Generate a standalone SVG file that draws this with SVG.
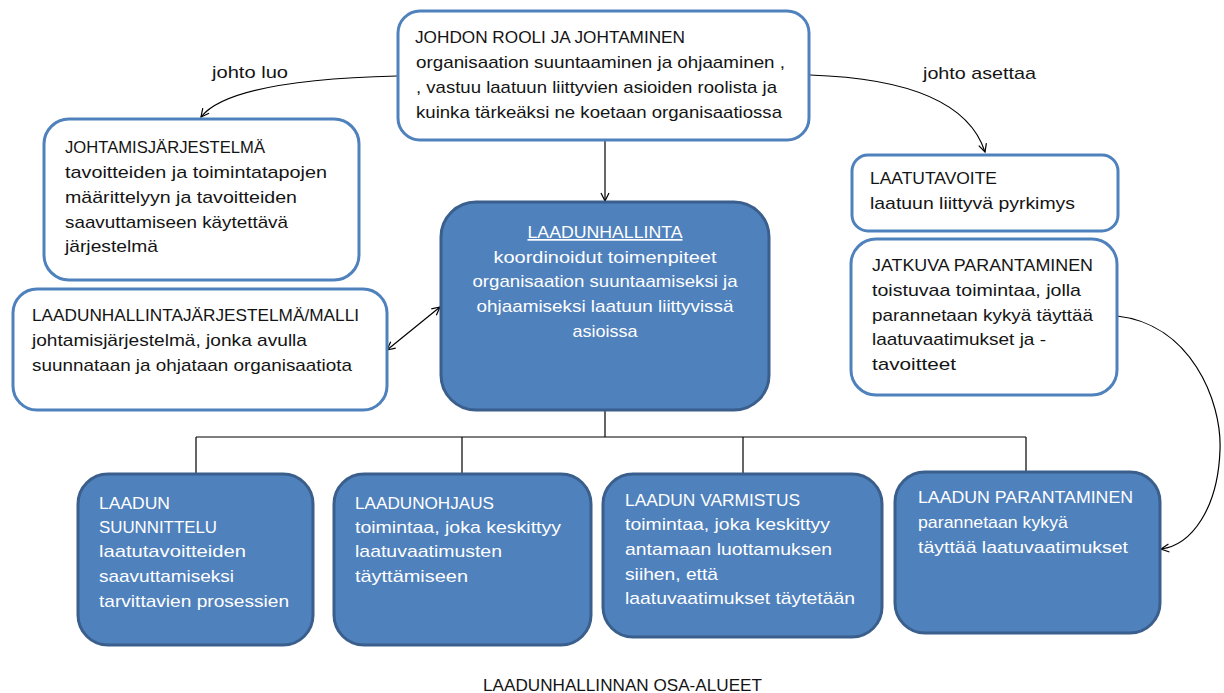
<svg xmlns="http://www.w3.org/2000/svg" width="1224" height="693" viewBox="0 0 1224 693">
  <defs>
    <marker id="open" viewBox="0 0 10 10" refX="9" refY="5" markerWidth="10" markerHeight="10" markerUnits="userSpaceOnUse" orient="auto-start-reverse">
      <path d="M1,1 L9,5 L1,9" fill="none" stroke="#000" stroke-width="1.2"/>
    </marker>
    <style>
      text { font-family: "Liberation Sans", Arial, sans-serif; font-size: 17px; fill: #141414; }
      .light rect { fill: #fff; stroke: #4f81bd; stroke-width: 3; }
      .dark rect { fill: #4f81bd; stroke: #3a5f8c; stroke-width: 3; }
      .dark text { fill: #fff; }
      .link { fill: none; stroke: #000; stroke-width: 1.2; }
      .arrow { marker-end: url(#open); }
    </style>
  </defs>

  <rect width="1224" height="693" fill="#fff"/>

  <!-- connectors -->
  <g id="connectors">
    <path class="link arrow" d="M397,76 Q230,80 201,117"/>
    <path class="link arrow" d="M810,75 Q962,80 985,152"/>
    <path class="link arrow" d="M605,140 L605,201"/>
    <path class="link arrow" d="M387,350 L440,307" marker-start="url(#open)"/>
    <path class="link" d="M605,410 V437 M196,437 H1026 M196,437 V473 M462,437 V473 M743,437 V473 M1026,437 V472"/>
    <path class="link arrow" d="M1117,316 C1190,324 1222,400 1220,450 C1218,508 1192,545 1161,549"/>
    <text x="212" y="78" textLength="76" lengthAdjust="spacingAndGlyphs">johto luo</text>
    <text x="923" y="79" textLength="113" lengthAdjust="spacingAndGlyphs">johto asettaa</text>
  </g>

  <!-- management role -->
  <g id="johdon-rooli" class="light">
    <rect x="398" y="11" width="411" height="129" rx="22"/>
    <text x="415" y="43" textLength="270" lengthAdjust="spacingAndGlyphs">JOHDON ROOLI JA JOHTAMINEN</text>
    <text x="416" y="68" textLength="369" lengthAdjust="spacingAndGlyphs">organisaation suuntaaminen ja ohjaaminen ,</text>
    <text x="416" y="93" textLength="361" lengthAdjust="spacingAndGlyphs">, vastuu laatuun liittyvien asioiden roolista ja</text>
    <text x="416" y="118" textLength="366" lengthAdjust="spacingAndGlyphs">kuinka tärkeäksi ne koetaan organisaatiossa</text>
  </g>

  <!-- management system -->
  <g id="johtamisjarjestelma" class="light">
    <rect x="44" y="119" width="315" height="161" rx="25"/>
    <text x="65" y="153" textLength="200" lengthAdjust="spacingAndGlyphs">JOHTAMISJÄRJESTELMÄ</text>
    <text x="65" y="178" textLength="262" lengthAdjust="spacingAndGlyphs">tavoitteiden ja toimintatapojen</text>
    <text x="65" y="203" textLength="232" lengthAdjust="spacingAndGlyphs">määrittelyyn ja tavoitteiden</text>
    <text x="65" y="228" textLength="223" lengthAdjust="spacingAndGlyphs">saavuttamiseen käytettävä</text>
    <text x="65" y="252" textLength="93" lengthAdjust="spacingAndGlyphs">järjestelmä</text>
  </g>

  <!-- quality management system / model -->
  <g id="laadunhallintajarjestelma" class="light">
    <rect x="13" y="289" width="374" height="121" rx="24"/>
    <text x="32" y="321" textLength="327" lengthAdjust="spacingAndGlyphs">LAADUNHALLINTAJÄRJESTELMÄ/MALLI</text>
    <text x="32" y="346" textLength="275" lengthAdjust="spacingAndGlyphs">johtamisjärjestelmä, jonka avulla</text>
    <text x="32" y="371" textLength="320" lengthAdjust="spacingAndGlyphs">suunnataan ja ohjataan organisaatiota</text>
  </g>

  <!-- quality objective -->
  <g id="laatutavoite" class="light">
    <rect x="852" y="155" width="266" height="76" rx="16"/>
    <text x="870" y="184" textLength="127" lengthAdjust="spacingAndGlyphs">LAATUTAVOITE</text>
    <text x="870" y="209" textLength="205" lengthAdjust="spacingAndGlyphs">laatuun liittyvä pyrkimys</text>
  </g>

  <!-- continual improvement -->
  <g id="jatkuva-parantaminen" class="light">
    <rect x="851" y="239" width="266" height="156" rx="25"/>
    <text x="872" y="271" textLength="221" lengthAdjust="spacingAndGlyphs">JATKUVA PARANTAMINEN</text>
    <text x="872" y="296" textLength="209" lengthAdjust="spacingAndGlyphs">toistuvaa toimintaa, jolla</text>
    <text x="872" y="321" textLength="221" lengthAdjust="spacingAndGlyphs">parannetaan kykyä täyttää</text>
    <text x="872" y="345" textLength="174" lengthAdjust="spacingAndGlyphs">laatuvaatimukset ja -</text>
    <text x="872" y="370" textLength="84" lengthAdjust="spacingAndGlyphs">tavoitteet</text>
  </g>

  <!-- quality management (centre) -->
  <g id="laadunhallinta" class="dark">
    <rect x="441" y="202" width="328" height="208" rx="35"/>
    <text x="605" y="238" text-anchor="middle" text-decoration="underline" textLength="155" lengthAdjust="spacingAndGlyphs">LAADUNHALLINTA</text>
    <text x="605" y="263" text-anchor="middle" textLength="223" lengthAdjust="spacingAndGlyphs">koordinoidut toimenpiteet</text>
    <text x="605" y="287" text-anchor="middle" textLength="265" lengthAdjust="spacingAndGlyphs">organisaation suuntaamiseksi ja</text>
    <text x="605" y="312" text-anchor="middle" textLength="257" lengthAdjust="spacingAndGlyphs">ohjaamiseksi laatuun liittyvissä</text>
    <text x="605" y="337" text-anchor="middle" textLength="65" lengthAdjust="spacingAndGlyphs">asioissa</text>
  </g>

  <!-- sub-areas -->
  <g id="laadun-suunnittelu" class="dark">
    <rect x="78" y="474" width="235" height="171" rx="30"/>
    <text x="99" y="509" textLength="71" lengthAdjust="spacingAndGlyphs">LAADUN</text>
    <text x="99" y="533" textLength="118" lengthAdjust="spacingAndGlyphs">SUUNNITTELU</text>
    <text x="99" y="557" textLength="147" lengthAdjust="spacingAndGlyphs">laatutavoitteiden</text>
    <text x="99" y="582" textLength="135" lengthAdjust="spacingAndGlyphs">saavuttamiseksi</text>
    <text x="99" y="607" textLength="190" lengthAdjust="spacingAndGlyphs">tarvittavien prosessien</text>
  </g>

  <g id="laadunohjaus" class="dark">
    <rect x="334" y="474" width="257" height="171" rx="30"/>
    <text x="355" y="509" textLength="139" lengthAdjust="spacingAndGlyphs">LAADUNOHJAUS</text>
    <text x="355" y="533" textLength="206" lengthAdjust="spacingAndGlyphs">toimintaa, joka keskittyy</text>
    <text x="355" y="557" textLength="147" lengthAdjust="spacingAndGlyphs">laatuvaatimusten</text>
    <text x="355" y="582" textLength="113" lengthAdjust="spacingAndGlyphs">täyttämiseen</text>
  </g>

  <g id="laadun-varmistus" class="dark">
    <rect x="603" y="474" width="279" height="163" rx="30"/>
    <text x="625" y="506" textLength="175" lengthAdjust="spacingAndGlyphs">LAADUN VARMISTUS</text>
    <text x="625" y="530" textLength="205" lengthAdjust="spacingAndGlyphs">toimintaa, joka keskittyy</text>
    <text x="625" y="555" textLength="207" lengthAdjust="spacingAndGlyphs">antamaan luottamuksen</text>
    <text x="625" y="580" textLength="93" lengthAdjust="spacingAndGlyphs">siihen, että</text>
    <text x="625" y="604" textLength="230" lengthAdjust="spacingAndGlyphs">laatuvaatimukset täytetään</text>
  </g>

  <g id="laadun-parantaminen" class="dark">
    <rect x="895" y="472" width="265" height="161" rx="30"/>
    <text x="918" y="503" textLength="215" lengthAdjust="spacingAndGlyphs">LAADUN PARANTAMINEN</text>
    <text x="918" y="528" textLength="150" lengthAdjust="spacingAndGlyphs">parannetaan kykyä</text>
    <text x="918" y="553" textLength="210" lengthAdjust="spacingAndGlyphs">täyttää laatuvaatimukset</text>
  </g>

  <!-- caption -->
  <text id="caption" x="483" y="691" textLength="279" lengthAdjust="spacingAndGlyphs">LAADUNHALLINNAN OSA-ALUEET</text>
</svg>
